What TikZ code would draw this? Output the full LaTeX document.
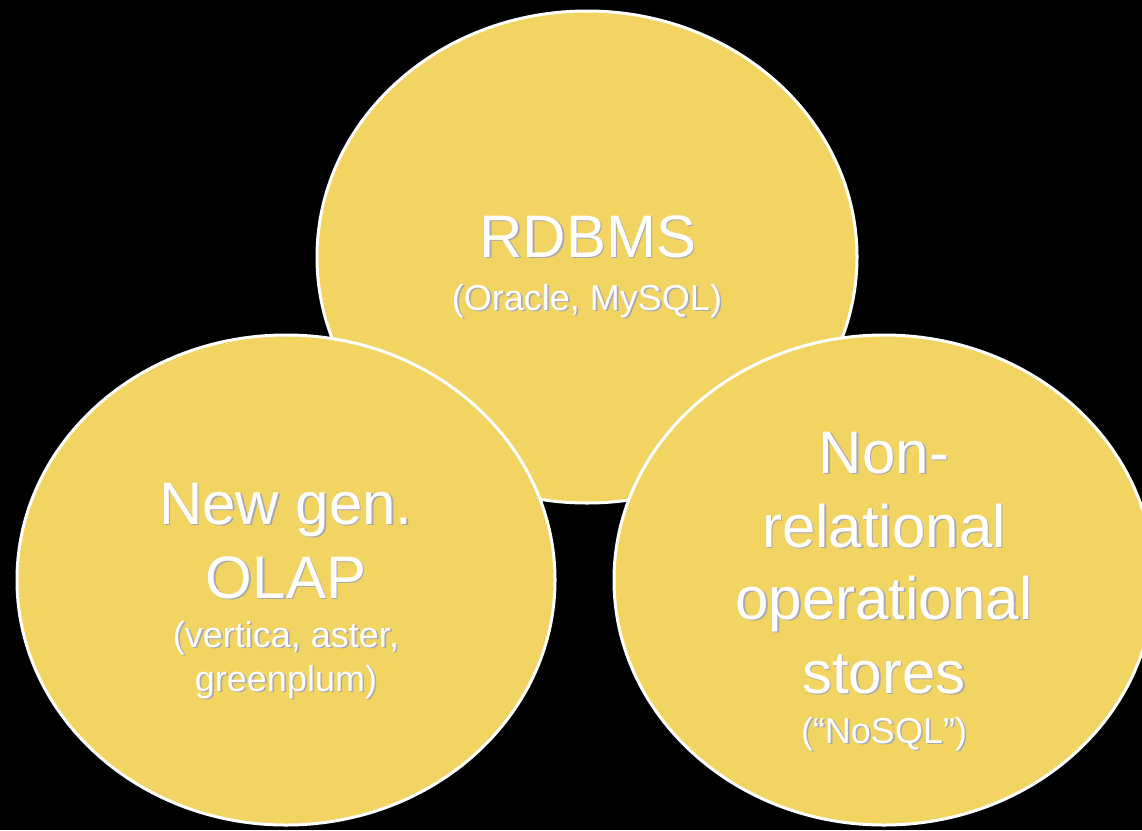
\documentclass[tikz,border=0pt]{standalone}
\usepackage{fontspec}
\setmainfont{Liberation Sans}
\usetikzlibrary{shapes.geometric}
\definecolor{fillc}{HTML}{F2D462}
\definecolor{shc}{HTML}{A8A8B0}
\tikzset{
  circ/.style={ellipse, draw=white, line width=3pt, fill=fillc, inner sep=0pt},
  txt/.style={text=white, inner sep=0pt, anchor=base},
  shd/.style={text=shc, inner sep=0pt, anchor=base, xshift=1.6pt, yshift=-1.6pt},
  bigtxt/.style={font=\fontsize{60}{72}\selectfont},
  smalltxt/.style={font=\fontsize{36}{43}\selectfont},
}
\newcommand\twin[4]{%
  \node[shd,#3] (#1s) at (#2) {#4};
  \node[txt,#3] (#1) at (#2) {#4};}
\begin{document}
\begin{tikzpicture}[x=1pt,y=-1pt]
\path[use as bounding box, fill=black] (0,0) rectangle (1142,830);
\node[circ, minimum width=540pt, minimum height=492pt] (rdb) at (587,257) {};
\node[circ, minimum width=538pt, minimum height=490pt] (olap) at (286,580) {};
\node[circ, minimum width=540pt, minimum height=490pt] (nosql) at (884,580) {};
% top circle
\twin{t1}{588,257}{bigtxt}{RDBMS}
\twin{t2}{587,310}{smalltxt}{(Oracle, MySQL)}
% left circle
\twin{l1}{286,524}{bigtxt}{New gen.}
\twin{l2}{286,598}{bigtxt}{OLAP}
\twin{l3}{286,647}{smalltxt}{(vertica, aster,}
\twin{l4}{286,691}{smalltxt}{greenplum)}
% right circle
\twin{r1}{884,473}{bigtxt}{Non-}
\twin{r2}{884,547}{bigtxt}{relational}
\twin{r3}{884,619}{bigtxt}{operational}
\twin{r4}{884,693}{bigtxt}{stores}
\twin{r5}{884,743}{smalltxt}{(“NoSQL”)}
\end{tikzpicture}
\end{document}
